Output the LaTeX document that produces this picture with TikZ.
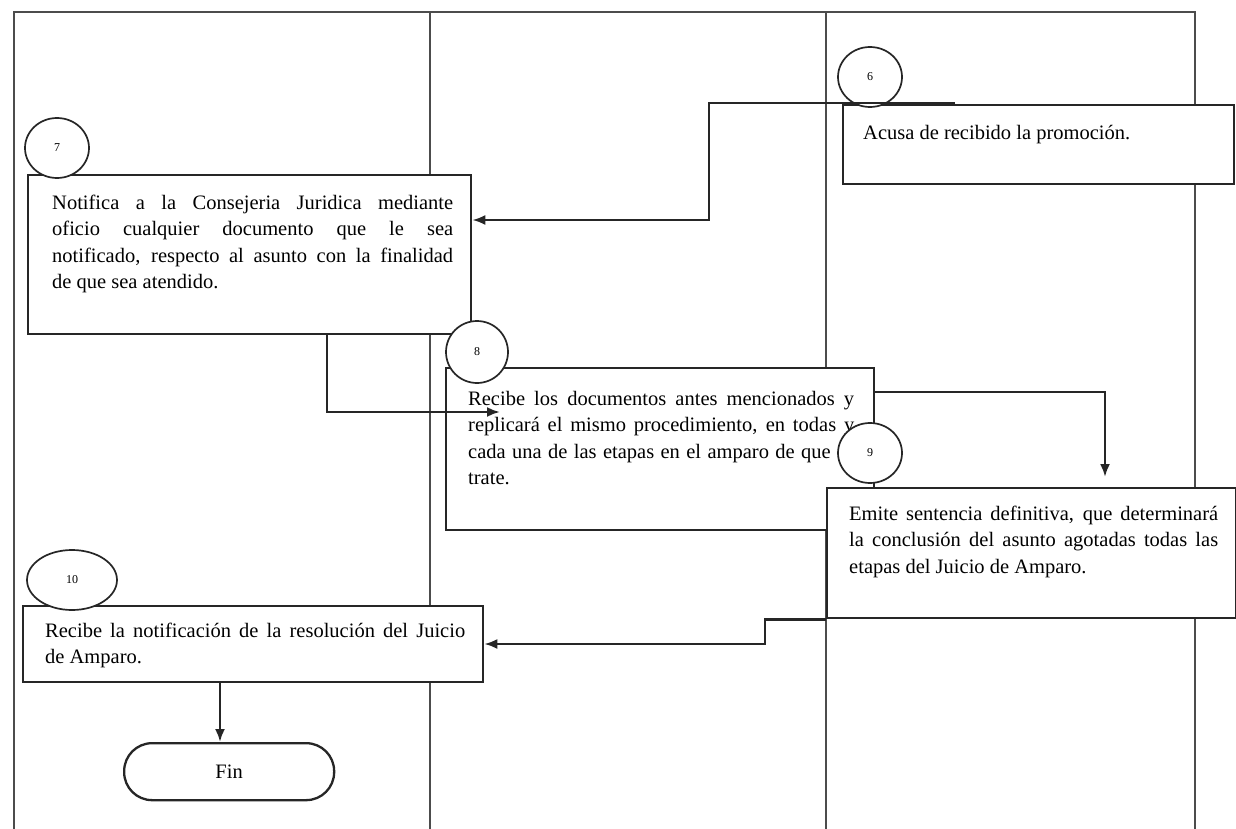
\documentclass[tikz,border=0pt]{standalone}
\usepackage{fontspec}
\setmainfont{Liberation Serif}
\usetikzlibrary{arrows.meta,shapes.geometric}
\tolerance=10000
\pretolerance=10000
\hbadness=10000
\begin{document}
\begin{tikzpicture}[x=1pt,y=-1pt,
  lane/.style={draw=black!70,line width=1.2pt},
  box/.style={draw=black!85,line width=2.3pt,fill=white,rectangle,inner sep=0pt,anchor=north west},
  num/.style={draw=black!85,line width=1.7pt,fill=white,ellipse,inner sep=0pt,font=\fontsize{12}{12}\selectfont},
  txt/.style={inner sep=0pt,anchor=base west,align=justify,font=\fontsize{20.5}{26.5}\selectfont},
  conn/.style={draw=black!85,line width=2.4pt},
  arr/.style={conn,-{Latex[length=13pt,width=10pt]}},
]
\useasboundingbox[fill=white] (0,0) rectangle (1236,829);

% lanes
\coordinate (l0) at (14,12);
\coordinate (l1) at (430,12);
\coordinate (l2) at (826,12);
\coordinate (l3) at (1195,12);
\draw[lane] (l0 |- 0,829) -- (l0) -- (l3) -- (l3 |- 0,829);
\draw[lane] (l1) -- (l1 |- 0,829);
\draw[lane] (l2) -- (l2 |- 0,829);

% boxes
\node[box,minimum width=391pt,minimum height=79pt] (b6) at (842,104) {};
\node[box,minimum width=443pt,minimum height=159pt] (b7) at (27,174) {};
\node[box,minimum width=428pt,minimum height=162pt] (b8) at (445,367) {};
\node[box,minimum width=409pt,minimum height=130pt] (b9) at (826,487) {};
\node[box,minimum width=460pt,minimum height=76pt] (b10) at (22,605) {};
\node[box,rounded corners=28pt,minimum width=210pt,minimum height=57pt,font=\fontsize{20.5}{21}\selectfont] (fin) at (123,742) {Fin};

% texts
\node[txt] (t6) at (863,140) {Acusa de recibido la promoción.};
\node[txt,text width=401pt] (t7) at (52,209) {Notifica a la Consejeria Juridica mediante\linebreak oficio cualquier documento que le sea\linebreak notificado, respecto al asunto con la finalidad\linebreak de que sea atendido.};
\node[txt,text width=386pt] (t8) at (468,405) {Recibe los documentos antes mencionados y\linebreak replicará el mismo procedimiento, en todas y\linebreak cada una de las etapas en el amparo de que se\linebreak trate.};
\node[txt,text width=369pt] (t9) at (849,520) {Emite sentencia definitiva, que determinará\linebreak la conclusión del asunto agotadas todas las\linebreak etapas del Juicio de Amparo.};
\node[txt,text width=420pt] (t10) at (45,637) {Recibe la notificación de la resolución del Juicio\linebreak de Amparo.};

% numbers
\node[num,minimum width=64pt,minimum height=60pt] (c6) at (870,77) {6};
\node[num,minimum width=64pt,minimum height=60pt] (c7) at (57,148) {7};
\node[num,minimum width=62pt,minimum height=62pt] (c8) at (477,352) {8};
\node[num,minimum width=64pt,minimum height=60pt] (c9) at (870,453) {9};
\node[num,minimum width=90pt,minimum height=60pt] (c10) at (72,580) {10};

% connectors
\coordinate (s6) at (955,103);
\coordinate (k6) at (709,220);
\draw[arr] (s6) -| (k6) -- (k6 -| b7.east);

\coordinate (k78) at (327,412);
\coordinate (t78) at (500,412);
\draw[arr] (k78 |- b7.south) -- (k78) -- (t78);

\coordinate (k89) at (1105,392);
\coordinate (t89) at (1105,477);
\draw[arr] (b8.east |- k89) -- (k89) -- (t89);

\coordinate (k910) at (765,644);
\draw[arr] (b9.south west) -| (k910) -- (k910 -| b10.east);

\coordinate (k10) at (220,0);
\draw[arr] (k10 |- b10.south) -- (k10 |- fin.north);
\end{tikzpicture}
\end{document}
